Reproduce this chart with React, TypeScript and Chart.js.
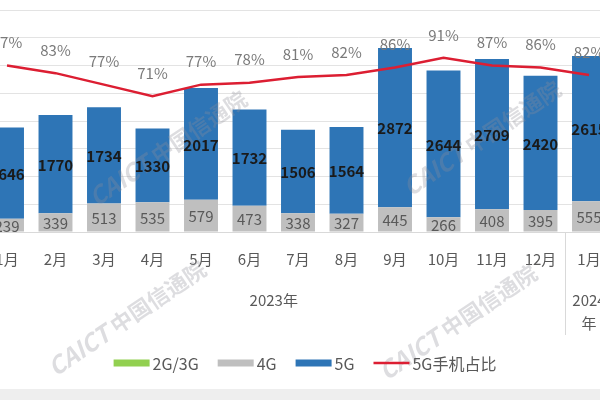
import React, { useEffect, useRef } from "react";
import { Chart, registerables } from "chart.js";

Chart.register(...registerables);

// ---- data ----
const months = ["1月", "2月", "3月", "4月", "5月", "6月", "7月", "8月", "9月", "10月", "11月", "12月", "1月"];
const yearLabels = ["2023年", "2024年"];
const yearSpans = [12, 1];
const g23 = [0, 0, 0, 0, 0, 0, 0, 0, 0, 0, 0, 0, 0];
const g4 = [239, 339, 513, 535, 579, 473, 338, 327, 445, 266, 408, 395, 555];
const g5 = [1646, 1770, 1734, 1330, 2017, 1732, 1506, 1564, 2872, 2644, 2709, 2420, 2615];
const share = [87, 83, 77, 71, 77, 78, 81, 82, 86, 91, 87, 86, 82];
const seriesNames = ["2G/3G", "4G", "5G", "5G手机占比"];

const FONT = "'Noto Sans CJK SC', 'Noto Sans', sans-serif";
const C23 = "#92d050";
const C4 = "#bfbfbf";
const C5 = "#2e75b6";
const CRED = "#dc1e32";
const OFFSET = 30; // canvas is shifted left by this many px

const overlay = {
  id: "overlay",
  afterDatasetsDraw(chart: any) {
    const ctx = chart.ctx as CanvasRenderingContext2D;
    const area = chart.chartArea;
    const xs = chart.scales.x;
    ctx.save();

    // watermarks
    const wm = [
      [168, 148],
      [482, 138],
      [127, 318],
      [458, 322],
    ];
    ctx.fillStyle = "rgba(142,142,152,0.3)";
    ctx.textBaseline = "middle";
    for (const [px, py] of wm) {
      ctx.save();
      ctx.translate(px + OFFSET, py);
      ctx.rotate(-34 * Math.PI / 180);
      ctx.font = `italic bold 24px ${FONT}`;
      const w1 = ctx.measureText("CAICT ").width;
      ctx.font = `bold 22px ${FONT}`;
      const w2 = ctx.measureText("中国信通院").width;
      const tot = w1 + w2;
      ctx.textAlign = "left";
      ctx.font = `italic bold 24px ${FONT}`;
      ctx.fillText("CAICT ", -tot / 2, 0);
      ctx.font = `bold 22px ${FONT}`;
      ctx.fillText("中国信通院", -tot / 2 + w1, 0);
      ctx.restore();
    }

    // bar value labels
    ctx.textAlign = "center";
    ctx.textBaseline = "middle";
    const m4 = chart.getDatasetMeta(1);
    const m5 = chart.getDatasetMeta(2);
    ctx.font = `15px ${FONT}`;
    ctx.fillStyle = "#595959";
    m4.data.forEach((el: any, i: number) => {
      const p = el.getProps(["x", "y", "base"], true);
      ctx.fillText(String(g4[i]), p.x, (p.y + p.base) / 2 + 1);
    });
    ctx.font = `bold 15px ${FONT}`;
    ctx.fillStyle = "#1a1a1a";
    m5.data.forEach((el: any, i: number) => {
      const p = el.getProps(["x", "y", "base"], true);
      ctx.fillText(String(g5[i]), p.x, (p.y + p.base) / 2 + 1);
    });

    // percentage labels
    const ml = chart.getDatasetMeta(3);
    ctx.font = `15px ${FONT}`;
    ctx.fillStyle = "#7a7a7a";
    ml.data.forEach((el: any, i: number) => {
      const p = el.getProps(["x", "y"], true);
      ctx.fillText(share[i] + "%", p.x, p.y - 23);
    });

    // group separators and year labels
    ctx.strokeStyle = "#d9d9d9";
    ctx.lineWidth = 1;
    let start = 0;
    const step = xs.getPixelForValue(1) - xs.getPixelForValue(0);
    ctx.font = `15px ${FONT}`;
    ctx.fillStyle = "#595959";
    yearSpans.forEach((span, gi) => {
      const xl = xs.getPixelForValue(start) - step / 2;
      const xr = xs.getPixelForValue(start + span - 1) + step / 2;
      [xl, xr].forEach((xx) => {
        ctx.beginPath();
        ctx.moveTo(Math.round(xx) + 0.5, area.bottom);
        ctx.lineTo(Math.round(xx) + 0.5, 335);
        ctx.stroke();
      });
      const label = yearLabels[gi];
      const maxW = xr - xl - 8;
      const lines: string[] = [];
      let cur = "";
      for (const ch of label) {
        if (cur && ctx.measureText(cur + ch).width > maxW) {
          lines.push(cur);
          cur = ch;
        } else cur += ch;
      }
      if (cur) lines.push(cur);
      const cx = (xl + xr) / 2;
      lines.forEach((ln, li) => ctx.fillText(ln, cx, 300 + li * 23));
      start += span;
    });

    // legend
    const colors = [C23, C4, C5, CRED];
    ctx.font = `16px ${FONT}`;
    const sw = 36, gapT = 3, gapI = 19;
    let total = 0;
    seriesNames.forEach((n, i) => {
      total += sw + gapT + ctx.measureText(n).width + (i < seriesNames.length - 1 ? gapI : 0);
    });
    let lx = 305 + OFFSET - total / 2;
    const ly = 363;
    ctx.textAlign = "left";
    seriesNames.forEach((n, i) => {
      if (i === 3) {
        ctx.strokeStyle = colors[i];
        ctx.lineWidth = 2.5;
        ctx.beginPath();
        ctx.moveTo(lx, ly);
        ctx.lineTo(lx + sw, ly);
        ctx.stroke();
      } else {
        ctx.fillStyle = colors[i];
        ctx.fillRect(lx, ly - 3.5, sw, 7);
      }
      lx += sw + gapT;
      ctx.fillStyle = "#595959";
      ctx.fillText(n, lx, ly + 1);
      lx += ctx.measureText(n).width + gapI;
    });

    ctx.restore();
  },
};

export default function App() {
  const ref = useRef<HTMLCanvasElement>(null);
  useEffect(() => {
    if (!ref.current) return;
    const chart = new Chart(ref.current, {
      type: "bar",
      data: {
        labels: months,
        datasets: [
          { label: seriesNames[0], data: g23, backgroundColor: C23, stack: "s", order: 1 },
          { label: seriesNames[1], data: g4, backgroundColor: C4, stack: "s", order: 1 },
          { label: seriesNames[2], data: g5, backgroundColor: C5, stack: "s", order: 1 },
          {
            type: "line",
            label: seriesNames[3],
            data: share,
            borderColor: CRED,
            backgroundColor: CRED,
            borderWidth: 2.5,
            pointRadius: 0,
            tension: 0,
            yAxisID: "y1",
            order: 0,
          } as any,
        ],
      },
      options: {
        animation: false,
        responsive: false,
        layout: { padding: { top: 10, left: 12.75, right: 16.75, bottom: 0 } },
        datasets: { bar: { barPercentage: 0.7, categoryPercentage: 1 } },
        plugins: { legend: { display: false }, tooltip: { enabled: false } },
        scales: {
          x: {
            stacked: true,
            grid: { display: false },
            border: { display: true, color: "#d9d9d9" },
            ticks: {
              color: "#595959",
              font: { size: 15, family: FONT },
              padding: 10,
              maxRotation: 0,
              autoSkip: false,
            },
            afterFit: (s: any) => {
              s.height = 168;
            },
          },
          y: {
            stacked: true,
            min: 0,
            max: 4000,
            ticks: { display: false, stepSize: 500 },
            grid: { color: "#e3e3e3", drawTicks: false },
            border: { display: false },
            afterFit: (s: any) => {
              s.width = 0;
            },
          },
          y1: { display: false, min: 0, max: 116 },
        },
      },
      plugins: [overlay],
    });
    return () => chart.destroy();
  }, []);

  return (
    <div
      style={{
        position: "fixed",
        left: 0,
        top: 0,
        width: 600,
        height: 400,
        overflow: "hidden",
        background: "#ffffff",
      }}
    >
      <canvas
        ref={ref}
        width={660}
        height={400}
        style={{ position: "absolute", left: -OFFSET, top: 0, width: 660, height: 400 }}
      />
      <div
        style={{
          position: "absolute",
          left: 0,
          top: 389,
          width: 600,
          height: 11,
          background: "#eeeeee",
        }}
      />
    </div>
  );
}
